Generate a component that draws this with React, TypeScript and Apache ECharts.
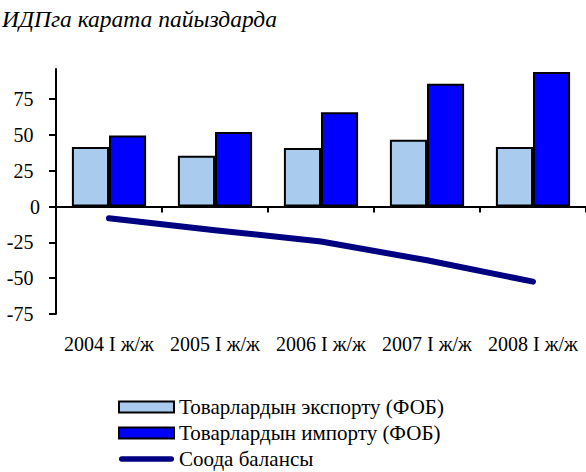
import React, { useEffect, useRef } from "react";
import * as echarts from "echarts";

const categories = ["2004 I ж/ж", "2005 I ж/ж", "2006 I ж/ж", "2007 I ж/ж", "2008 I ж/ж"];
const exportValues = [41.5, 35.4, 40.8, 46.6, 41.5];
const importValues = [49.6, 52.0, 65.9, 85.7, 93.9];
const balanceValues = [-8.1, -16.5, -24.4, -37.5, -52.4];
const yTicks = [-75, -50, -25, 0, 25, 50, 75];
const seriesNames = ["Товарлардын экспорту (ФОБ)", "Товарлардын импорту (ФОБ)", "Соода балансы"];
const titleText = "ИДПга карата пайыздарда";

const FONT = "Times New Roman, Liberation Serif, serif";

export default function App() {
  const ref = useRef<HTMLDivElement>(null);
  useEffect(() => {
    if (!ref.current) return;
    const chart = echarts.init(ref.current, undefined, { renderer: "svg" });
    chart.setOption({
      animation: false,
      backgroundColor: "#ffffff",
      textStyle: { fontFamily: FONT },
      title: {
        text: titleText,
        left: 2,
        top: 7,
        padding: 0,
        textStyle: { fontFamily: FONT, fontSize: 23.5, fontStyle: "italic", fontWeight: "normal", color: "#000" },
      },
      legend: {
        orient: "vertical",
        left: 118,
        top: 396,
        height: 76,
        padding: 0,
        itemWidth: 55,
        itemHeight: 11,
        itemGap: 4,
        symbolKeepAspect: true,
        textStyle: { fontFamily: FONT, fontSize: 21, lineHeight: 22, color: "#000" },
        data: [
          { name: seriesNames[0], icon: "rect", itemStyle: { color: "#A8CBEE", borderColor: "#000", borderWidth: 2 } },
          { name: seriesNames[1], icon: "rect", itemStyle: { color: "#0000FF", borderColor: "#000", borderWidth: 2 } },
          {
            name: seriesNames[2],
            icon: "path://M3,0 L57,0 A3,3 0 0 1 57,6 L3,6 A3,3 0 0 1 3,0 Z",
            itemStyle: { color: "#000080", borderWidth: 0 },
          },
        ],
      },
      grid: { left: 56, right: 0, top: 69, bottom: 158, containLabel: false },
      xAxis: [
        {
          type: "category",
          data: categories,
          position: "bottom",
          axisLine: { onZero: true, lineStyle: { color: "#000", width: 2 } },
          axisTick: { show: true, length: 6, lineStyle: { color: "#000", width: 2 } },
          axisLabel: { show: false },
          splitLine: { show: false },
        },
        {
          type: "category",
          data: categories,
          position: "bottom",
          axisLine: { show: false, onZero: false },
          axisTick: { show: false },
          axisLabel: { show: true, interval: 0, margin: 20, fontFamily: FONT, fontSize: 20, color: "#000" },
          splitLine: { show: false },
        },
      ],
      yAxis: {
        type: "value",
        min: -75,
        max: 96,
        interval: 25,
        axisLine: { show: true, lineStyle: { color: "#000", width: 2 } },
        axisTick: { show: true, length: 7, lineStyle: { color: "#000", width: 2 }, customValues: yTicks },
        axisLabel: {
          margin: 16,
          fontFamily: FONT,
          fontSize: 20,
          color: "#000",
          customValues: yTicks,
          formatter: (v: number) => (v === 0 ? "{z|0}" : `{n|${v}}`),
          rich: {
            n: { fontFamily: FONT, fontSize: 20, color: "#000", padding: [0, 6.5, 0, 0] },
            z: { fontFamily: FONT, fontSize: 20, color: "#000" },
          },
        },
        splitLine: { show: false },
      },
      series: [
        {
          name: seriesNames[0],
          type: "bar",
          xAxisIndex: 0,
          data: exportValues,
          barGap: "0%",
          barCategoryGap: "30%",
          itemStyle: { color: "#A8CBEE", borderColor: "#000", borderWidth: 2 },
        },
        {
          name: seriesNames[1],
          type: "bar",
          xAxisIndex: 0,
          data: importValues,
          barGap: "0%",
          barCategoryGap: "30%",
          itemStyle: { color: "#0000FF", borderColor: "#000", borderWidth: 2 },
        },
        {
          name: seriesNames[2],
          type: "line",
          xAxisIndex: 0,
          data: balanceValues,
          symbol: "none",
          lineStyle: { color: "#000080", width: 6, cap: "round", join: "round" },
          itemStyle: { color: "#000080" },
        },
      ],
    });
    return () => chart.dispose();
  }, []);
  return (
    <div
      ref={ref}
      style={{ position: "fixed", left: 0, top: 0, width: 586, height: 472 }}
    />
  );
}
